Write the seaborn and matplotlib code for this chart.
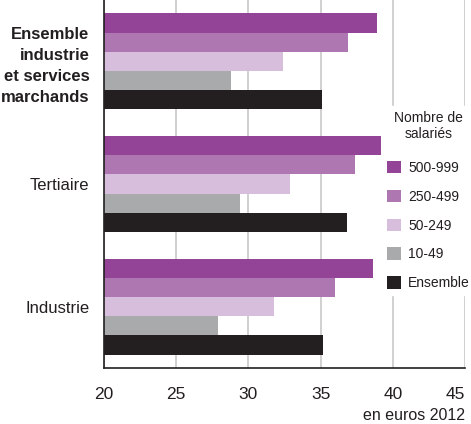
import pandas as pd
import matplotlib.pyplot as plt
import seaborn as sns

categories = ['Ensemble\nindustrie\net services\nmarchands', 'Tertiaire', 'Industrie']
tailles = ['500-999', '250-499', '50-249', '10-49', 'Ensemble']
v_500_999 = [38.9, 39.2, 38.6]
v_250_499 = [36.9, 37.4, 36.0]
v_50_249 = [32.4, 32.9, 31.8]
v_10_49 = [28.8, 29.4, 27.9]
v_ensemble = [35.1, 36.8, 35.2]
couleurs = ['#944496', '#ae77b2', '#d7bedc', '#a9aaac', '#231f20']

rows = []
for taille, vals in zip(tailles, [v_500_999, v_250_499, v_50_249, v_10_49, v_ensemble]):
    for cat, v in zip(categories, vals):
        rows.append({'secteur': cat, 'taille': taille, 'valeur': v})
df = pd.DataFrame(rows)

sns.set_style('white')
plt.rcParams['font.family'] = ['Liberation Sans', 'DejaVu Sans']
texte = '#231f20'

fig = plt.figure(figsize=(4.71, 4.24), dpi=100)
ax = fig.add_axes([104 / 471, 1 - 368 / 424, 361 / 471, 368 / 424])

sns.barplot(data=df, x='valeur', y='secteur', hue='taille', hue_order=tailles,
            palette=couleurs, orient='h', width=0.78, saturation=1,
            linewidth=0, ax=ax, legend=True, zorder=2)

ax.set_xlim(20, 45)
ax.set_ylim(2.5, -0.5)
ax.set_xticks([20, 25, 30, 35, 40, 45])
ax.tick_params(axis='x', length=0, labelsize=12.5, pad=14, labelcolor=texte)
ax.tick_params(axis='y', length=0, labelsize=12, pad=10.5, labelcolor=texte)
ax.grid(axis='x', color='#c8c8c8', linewidth=1.2, zorder=0)
ax.set_axisbelow(True)
for s in ['top', 'right']:
    ax.spines[s].set_visible(False)
for s in ['left', 'bottom']:
    ax.spines[s].set_color(texte)
    ax.spines[s].set_linewidth(1.2)

ax.set_ylabel('')
ax.set_xlabel('')
labels = ax.get_yticklabels()
labels[0].set_fontweight('bold')
labels[0].set_linespacing(1.5)
for lab in labels:
    lab.set_horizontalalignment('right')
    lab.set_multialignment('right')
xlabs = ax.get_xticklabels()
xlabs[-1].set_horizontalalignment('right')

fig.text(465 / 471, 1 - 415 / 424, 'en euros 2012', ha='right', va='center', fontsize=11.5, color=texte)

leg = ax.legend(title='Nombre de\nsalariés', loc='upper left', bbox_to_anchor=(0.7503, 0.731),
                frameon=True, fontsize=10, title_fontsize=10, handlelength=1.0,
                handleheight=1.0, labelspacing=1.07, handletextpad=0.55, borderpad=0.35)
leg.get_frame().set_facecolor('white')
leg.get_frame().set_edgecolor('white')
leg.get_frame().set_alpha(1)
leg.get_frame().set_boxstyle('square', pad=0)
leg._legend_box.align = 'center'
leg._legend_box.sep = 1.07 * 10 + 3.6
for t in leg.get_texts():
    t.set_color(texte)
leg.get_title().set_color(texte)
leg.get_title().set_multialignment('center')

fig.savefig('out.png', dpi=100)
